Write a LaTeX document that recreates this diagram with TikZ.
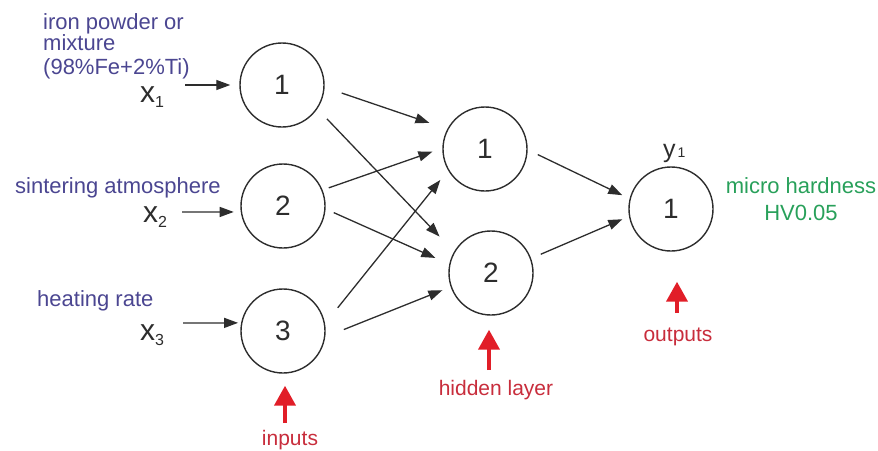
\documentclass[tikz,border=0pt]{standalone}
\usepackage{fontspec}
\setmainfont{Liberation Sans}
\usetikzlibrary{arrows.meta}
\definecolor{inkblue}{RGB}{75,70,145}
\definecolor{inkgreen}{RGB}{40,160,90}
\definecolor{inkred}{RGB}{200,45,60}
\definecolor{arrred}{RGB}{225,30,40}
\definecolor{inkgray}{RGB}{45,45,45}
\begin{document}
\begin{tikzpicture}[x=1pt,y=-1pt,
  neuron/.style={circle,draw=inkgray,line width=1.4pt,minimum size=84pt,inner sep=0pt,
    text=inkgray,font=\fontsize{28}{28}\selectfont},
  conn/.style={draw=inkgray,line width=1.3pt,-{Triangle[length=14pt,width=10pt]}},
  redarrow/.style={draw=arrred,line width=4pt,-{Triangle[length=20pt,width=21pt]},color=arrred},
  bluetxt/.style={text=inkblue,inner sep=0pt,font=\fontsize{22}{22}\selectfont},
  greentxt/.style={text=inkgreen,inner sep=0pt,font=\fontsize{22}{22}\selectfont},
  redtxt/.style={text=inkred,inner sep=0pt,font=\fontsize{21}{21}\selectfont},
  vartxt/.style={text=inkgray,inner sep=0pt,anchor=base west}]
\useasboundingbox (0,0) rectangle (878,450);

% input layer
\node[neuron] (i1) at (282,85) {1};
\node[neuron] (i2) at (283,206) {2};
\node[neuron] (i3) at (283,331) {3};
% hidden layer
\node[neuron] (h1) at (485,149) {1};
\node[neuron] (h2) at (491,273) {2};
% output layer
\node[neuron] (o1) at (671,209) {1};

% input descriptions
\node[bluetxt,anchor=base west] (d1a) at (43,29) {iron powder or};
\node[bluetxt,anchor=base west] (d1b) at (43,50) {mixture};
\node[bluetxt,anchor=base west] (d1c) at (43,74) {(98\%Fe+2\%Ti)};
\node[bluetxt,anchor=base west] (d2) at (15,193) {sintering atmosphere};
\node[bluetxt,anchor=base west] (d3) at (37,306) {heating rate};

% input variables
\node[vartxt] (x1) at (140,102) {\fontsize{30}{30}\selectfont x\raisebox{-5pt}{\fontsize{16}{16}\selectfont 1}};
\node[vartxt] (x2) at (143,222) {\fontsize{30}{30}\selectfont x\raisebox{-5pt}{\fontsize{16}{16}\selectfont 2}};
\node[vartxt] (x3) at (140,340) {\fontsize{30}{30}\selectfont x\raisebox{-5pt}{\fontsize{16}{16}\selectfont 3}};

% output variable and description
\node[vartxt] (y1) at (663,157) {\fontsize{25}{25}\selectfont y\kern2pt\fontsize{14}{14}\selectfont 1};
\node[greentxt,anchor=base] (m1) at (801,193) {micro hardness};
\node[greentxt,anchor=base] (m2) at (801,220) {HV0.05};

% input arrows
\coordinate (u1) at (185,85);
\coordinate (u2) at (182,212);
\coordinate (u3) at (183,323);
\draw[conn,shorten >=9pt] (u1) -- (i1.west);
\draw[conn,shorten >=7pt] (u2) -- (i2.188);
\draw[conn,shorten >=3pt] (u3) -- (i3.169);

% input -> hidden
\draw[conn,shorten <=18pt,shorten >=18.9pt] (i1.-3) -- (h1.152.4);
\draw[conn,shorten <=13.8pt,shorten >=20.9pt] (i1.-34.9) -- (h2.150.9);
\draw[conn,shorten <=6.5pt,shorten >=10.5pt] (i2.22.3) -- (h1.179);
\draw[conn,shorten <=8.9pt,shorten >=15.2pt] (i2.-4.7) -- (h2.168);
\draw[conn,shorten <=20.2pt,shorten >=12.3pt] (i3.10) -- (h1.-150.2);
\draw[conn,shorten <=20pt,shorten >=8.9pt] (i3.-8.9) -- (h2.-161.4);

% hidden -> output
\draw[conn,shorten <=11.2pt,shorten >=8.1pt] (h1.-1.3) -- (o1.166);
\draw[conn,shorten <=10.5pt,shorten >=7.2pt] (h2.20.1) -- (o1.-170.5);

% layer captions
\node[redtxt,anchor=base] (lin) at (290,445) {inputs};
\node[redtxt,anchor=base] (lhid) at (496,395) {hidden layer};
\node[redtxt,anchor=base] (lout) at (678,341) {outputs};
\coordinate (r1) at (285,423);
\coordinate (r2) at (489,370);
\coordinate (r3) at (677,313);
\draw[redarrow,shorten >=12pt] (r1) -- (r1 |- i3.south);
\draw[redarrow,shorten >=14pt] (r2) -- (r2 |- h2.south);
\draw[redarrow,shorten >=30pt] (r3) -- (r3 |- o1.south);
\end{tikzpicture}
\end{document}
